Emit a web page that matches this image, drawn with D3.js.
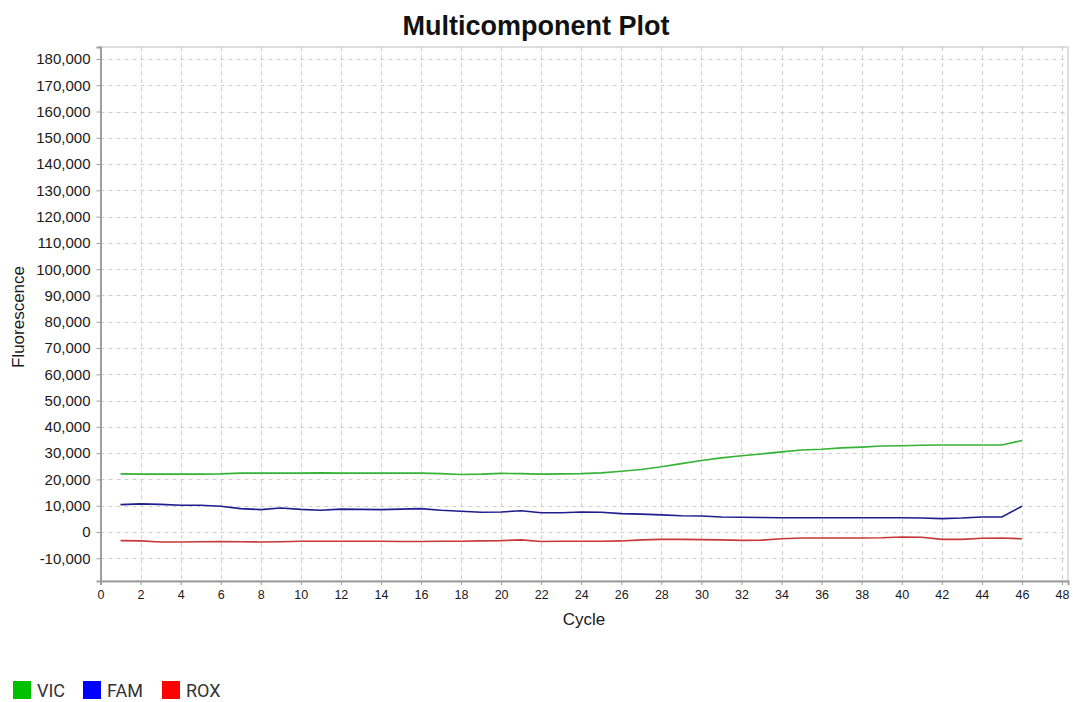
<!DOCTYPE html>
<html>
<head>
<meta charset="utf-8">
<script src="https://cdn.jsdelivr.net/npm/d3@7"></script>
<style>
  body { margin: 0; background: #fff; }
  svg { font-family: "Liberation Sans", Arial, sans-serif; }
</style>
</head>
<body>
<div id="chart"></div>
<script>
const cycles = d3.range(1, 47);
const vic = [22100, 22000, 22000, 22000, 22000, 22100, 22400, 22400, 22400, 22400,
  22500, 22400, 22400, 22400, 22400, 22400, 22200, 21900, 22000, 22300,
  22200, 22000, 22100, 22200, 22500, 23100, 23800, 24800, 26000, 27200,
  28200, 29000, 29700, 30500, 31200, 31500, 32000, 32300, 32700, 32800,
  33000, 33100, 33100, 33100, 33100, 34800];
const fam = [10400, 10700, 10500, 10200, 10200, 9800, 8900, 8500, 9100, 8600,
  8300, 8700, 8600, 8500, 8700, 8900, 8300, 7900, 7500, 7600,
  8100, 7300, 7300, 7600, 7500, 7000, 6800, 6500, 6200, 6100,
  5700, 5600, 5500, 5400, 5400, 5400, 5400, 5400, 5400, 5400,
  5300, 5100, 5300, 5700, 5700, 9800];
const rox = [-3300, -3400, -3800, -3800, -3700, -3600, -3700, -3800, -3700, -3500,
  -3500, -3500, -3500, -3500, -3600, -3600, -3500, -3500, -3400, -3300,
  -3000, -3600, -3500, -3500, -3500, -3400, -3000, -2800, -2800, -2900,
  -3000, -3200, -3100, -2600, -2300, -2300, -2300, -2300, -2200, -1900,
  -2000, -2800, -2800, -2400, -2300, -2600];
const xTicks = d3.range(0, 49, 2);
const yTicks = d3.range(-10000, 180001, 10000);

const series = [
  { name: 'VIC', values: vic, line: '#34b334', swatch: '#00c000' },
  { name: 'FAM', values: fam, line: '#1e1e8e', swatch: '#0000ff' },
  { name: 'ROX', values: rox, line: '#c83838', swatch: '#ff0000' },
];

const width = 1073, height = 702;
const margin = { left: 100.5, right: 5, top: 47, bottom: 121 };

const svg = d3.select('#chart').append('svg')
  .attr('width', width).attr('height', height);

const x = d3.scaleLinear().domain([0, 48.3]).range([margin.left, width - margin.right]);
const y = d3.scaleLinear().domain([-18650, 184550]).range([height - margin.bottom, margin.top]);

// grid
const grid = svg.append('g');
grid.selectAll('line.h').data(yTicks).join('line')
  .attr('class', 'h')
  .attr('x1', margin.left).attr('x2', width - margin.right)
  .attr('y1', d => Math.round(y(d)) + 0.5).attr('y2', d => Math.round(y(d)) + 0.5)
  .attr('stroke', '#cfcfcf').attr('stroke-dasharray', '4,4');
grid.selectAll('line.v').data(xTicks.filter(d => d > 0)).join('line')
  .attr('class', 'v')
  .attr('y1', margin.top).attr('y2', height - margin.bottom)
  .attr('x1', d => Math.round(x(d)) + 0.5).attr('x2', d => Math.round(x(d)) + 0.5)
  .attr('stroke', '#cfcfcf').attr('stroke-dasharray', '4,4');

// frame
svg.append('rect')
  .attr('x', margin.left).attr('y', margin.top)
  .attr('width', width - margin.right - margin.left)
  .attr('height', height - margin.bottom - margin.top)
  .attr('fill', 'none').attr('stroke', '#bdbdbd');

// axes
const fmtY = d => d3.format(',')(d).replace('\u2212', '-');
const xAxis = svg.append('g')
  .attr('transform', `translate(0,${height - margin.bottom})`)
  .call(d3.axisBottom(x).tickValues(xTicks).tickSize(4).tickPadding(5).tickFormat(d3.format('d')));
const yAxis = svg.append('g')
  .attr('transform', `translate(${margin.left},0)`)
  .call(d3.axisLeft(y).tickValues(yTicks).tickSize(4).tickPadding(6).tickFormat(fmtY));
[xAxis, yAxis].forEach(a => {
  a.select('.domain').attr('stroke', '#9e9e9e').attr('stroke-width', 2);
  a.selectAll('.tick line').attr('stroke', '#9e9e9e');
  a.selectAll('.tick text').attr('fill', '#1a1a1a').attr('font-size', 15)
    .attr('font-family', '"Liberation Sans", Arial, sans-serif');
});
xAxis.selectAll('.tick text').attr('font-size', 12.5);

// lines
const line = d3.line().x((d, i) => x(cycles[i])).y(d => y(d));
series.forEach(s => {
  svg.append('path')
    .datum(s.values)
    .attr('d', line)
    .attr('fill', 'none')
    .attr('stroke', s.line)
    .attr('stroke-width', 1.6);
});

// title and labels
svg.append('text')
  .attr('x', 536).attr('y', 35)
  .attr('text-anchor', 'middle')
  .attr('font-size', 27).attr('font-weight', 'bold').attr('fill', '#111')
  .text('Multicomponent Plot');
svg.append('text')
  .attr('x', 584).attr('y', 625)
  .attr('text-anchor', 'middle')
  .attr('font-size', 17).attr('fill', '#1a1a1a')
  .text('Cycle');
svg.append('text')
  .attr('transform', 'translate(24,317) rotate(-90)')
  .attr('text-anchor', 'middle')
  .attr('font-size', 17).attr('fill', '#1a1a1a')
  .text('Fluorescence');

// legend
const legendX = [13, 83, 162];
const legend = svg.append('g');
series.forEach((s, i) => {
  const g = legend.append('g').attr('transform', `translate(${legendX[i]},681)`);
  g.append('rect').attr('width', 18).attr('height', 18).attr('fill', s.swatch);
  g.append('text').attr('x', 24).attr('y', 16)
    .attr('font-family', 'Roboto, sans-serif')
    .attr('font-size', 18).attr('fill', '#333').text(s.name);
});
</script>
</body>
</html>
